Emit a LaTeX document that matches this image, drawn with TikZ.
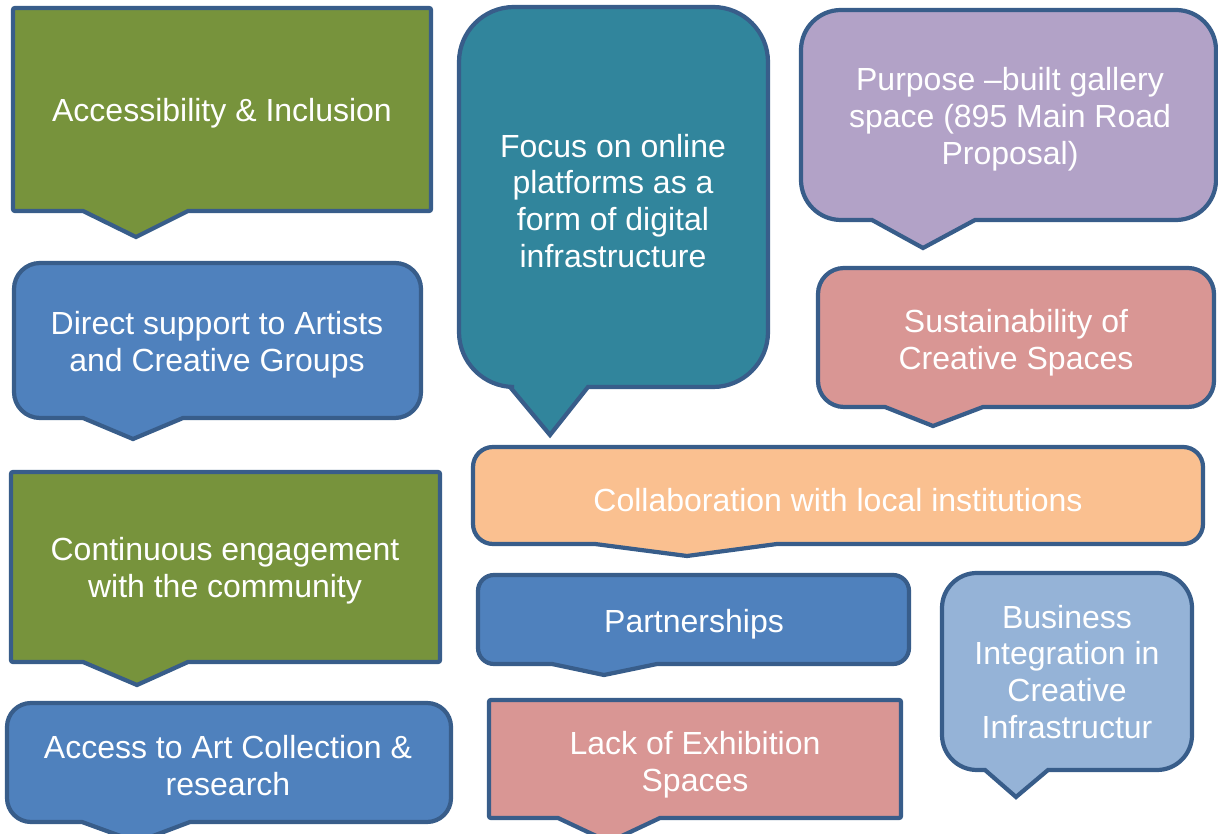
\documentclass[tikz,border=0pt]{standalone}
\usepackage{fontspec}
\setmainfont{Liberation Sans}
\definecolor{cgreen}{HTML}{77933C}
\definecolor{cblue}{HTML}{4F81BD}
\definecolor{cteal}{HTML}{31859C}
\definecolor{cpurple}{HTML}{B2A2C7}
\definecolor{cpink}{HTML}{D99694}
\definecolor{cpeach}{HTML}{FAC090}
\definecolor{clblue}{HTML}{95B3D7}
\definecolor{cborder}{HTML}{385D8A}
\tikzset{
  calloutbox/.style={draw=cborder, line width=1.2pt, line join=miter},
  label/.style={text=white, align=center, inner sep=0pt, font=\fontsize{9.1}{10.5}\selectfont}
}
% #1 fill, #2 x1, #3 y1, #4 x2, #5 y2, #6 radius, #7 base left, #8 base right, #9 tip
\newcommand{\calloutshape}[9]{%
  \filldraw[calloutbox, fill=#1]
    (#2+#6,#3) -- (#4-#6,#3) arc[start angle=-90,end angle=0,radius=#6]
    -- (#4,#5-#6) arc[start angle=0,end angle=90,radius=#6]
    -- (#8,#5) -- (#9) -- (#7,#5)
    -- (#2+#6,#5) arc[start angle=90,end angle=180,radius=#6]
    -- (#2,#3+#6) arc[start angle=180,end angle=270,radius=#6]
    -- cycle;}
\begin{document}
\begin{tikzpicture}[x=0.01cm,y=-0.01cm]
\useasboundingbox (0,0) rectangle (1218,834);
\begin{scope}
\clip (0,0) rectangle (1218,834);
\calloutshape{cgreen}{13}{8}{431}{211}{2}{83}{188}{136,237}
\calloutshape{cblue}{14}{263}{421}{418}{26}{83}{183}{133,439}
\calloutshape{cgreen}{11}{472}{440}{662}{2}{83}{188}{137,685}
\calloutshape{cblue}{7}{703}{451}{822}{24}{82}{190}{137,842}
\calloutshape{cteal}{459}{7}{768}{387}{55}{510}{588}{550,435}
\calloutshape{cpurple}{801}{10}{1216}{220}{40}{872}{975}{923,248}
\calloutshape{cpink}{818}{268}{1214}{407}{26}{885}{983}{933,426}
\calloutshape{cpeach}{473}{447}{1203}{544}{20}{595}{777}{687,556}
\calloutshape{cblue}{478}{575}{909}{664}{16}{552}{657}{604,675}
\calloutshape{cpink}{489}{700}{901}{818}{2}{558}{660}{609,842}
\calloutshape{clblue}{942}{573}{1192}{770}{35}{985}{1048}{1016,797}
\end{scope}
\node[label] (t1) at (222,113) {Accessibility \& Inclusion};
\node[label] (t2) at (217,345) {Direct support to Artists\\and Creative Groups};
\node[label] (t3) at (225,571) {Continuous engagement\\with the community};
\node[label] (t4) at (228,766) {Access to Art Collection \&\\research};
\node[label] (t5) at (613,201) {Focus on online\\platforms as a\\form of digital\\infrastructure};
\node[label] (t6) at (1010,119) {Purpose –built gallery\\space (895 Main Road\\Proposal)};
\node[label] (t7) at (1016,343) {Sustainability of\\Creative Spaces};
\node[label] (t8) at (838,500) {Collaboration with local institutions};
\node[label] (t9) at (694,624) {Partnerships};
\node[label] (t10) at (695,765) {Lack of Exhibition\\Spaces};
\node[label] (t11) at (1067,672) {Business\\Integration in\\Creative\\Infrastructur};
\end{tikzpicture}
\end{document}
